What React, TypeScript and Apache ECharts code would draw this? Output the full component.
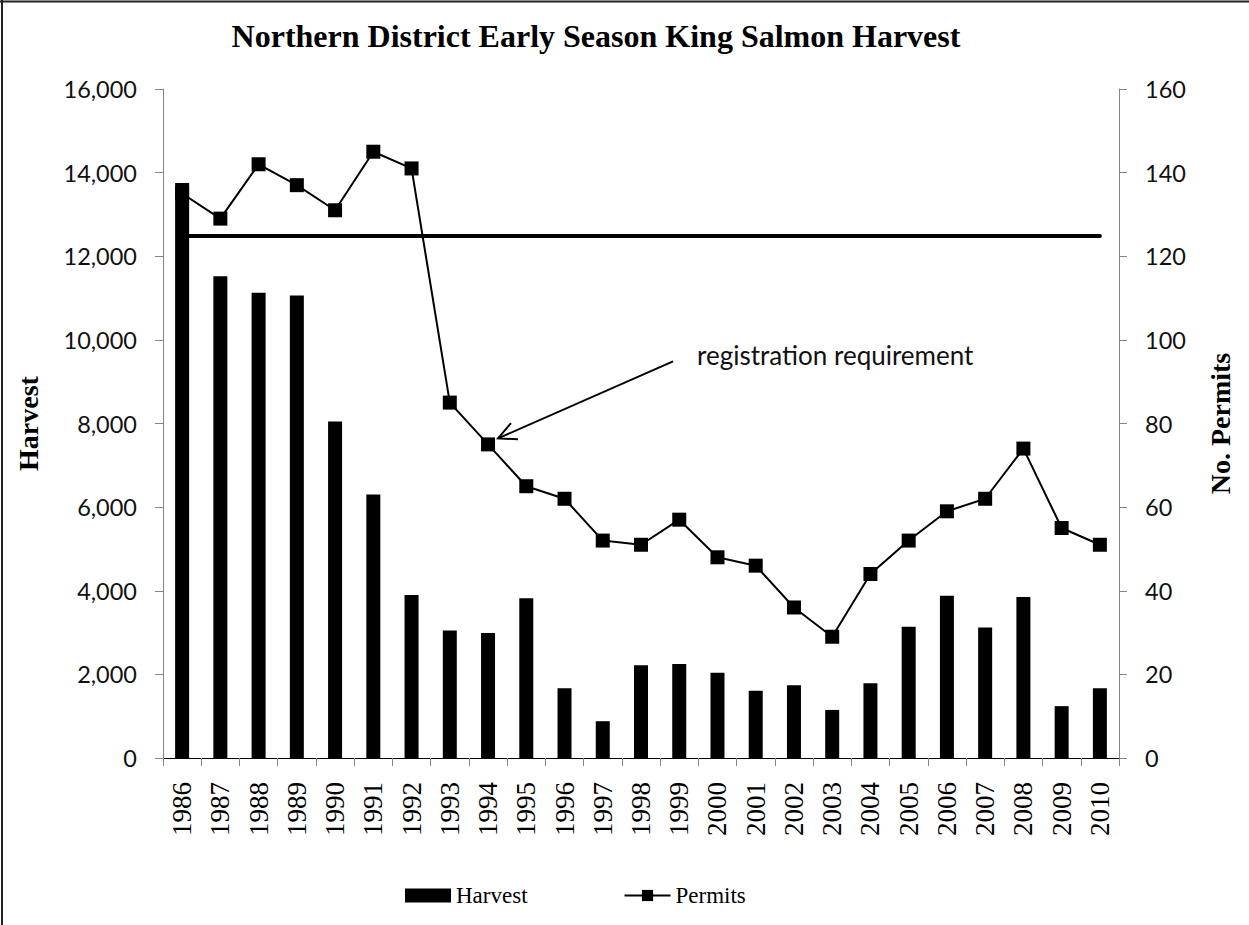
import React, { useEffect, useRef } from "react";
import * as echarts from "echarts";

const years = [
  "1986", "1987", "1988", "1989", "1990", "1991", "1992", "1993", "1994", "1995",
  "1996", "1997", "1998", "1999", "2000", "2001", "2002", "2003", "2004", "2005",
  "2006", "2007", "2008", "2009", "2010",
];
const harvest = [
  13750, 11520, 11130, 11060, 8050, 6300, 3900, 3050, 2990, 3820,
  1670, 880, 2220, 2250, 2040, 1610, 1740, 1150, 1790, 3140,
  3880, 3120, 3850, 1240, 1670,
];
const permits = [
  135, 129, 142, 137, 131, 145, 141, 85, 75, 65,
  62, 52, 51, 57, 48, 46, 36, 29, 44, 52,
  59, 62, 74, 55, 51,
];
const permitThreshold = 125;
const annotationText = "registration requirement";
const annotationYear = "1994";

const SERIF = "'Liberation Serif', 'Times New Roman', serif";
const SANS = "Lato, 'Open Sans', sans-serif";
const AXIS_GRAY = "#868686";

export default function App() {
  const ref = useRef<HTMLDivElement>(null);

  useEffect(() => {
    if (!ref.current) return;
    const chart = echarts.init(ref.current, null, { renderer: "svg" });
    const option: any = {
      animation: false,
      backgroundColor: "#fff",
      title: {
        text: "Northern District Early Season King Salmon Harvest",
        left: 591,
        top: 15,
        textAlign: "center",
        textStyle: { fontFamily: SERIF, fontWeight: "bold", fontSize: 32, color: "#000" },
      },
      legend: {
        left: 400,
        top: 879,
        itemWidth: 46,
        itemHeight: 14,
        itemGap: 96,
        textStyle: { fontFamily: SERIF, fontSize: 23, color: "#000" },
        data: [{ name: "Harvest", icon: "rect" }, { name: "Permits" }],
      },
      grid: { left: 163, right: 130, top: 89, bottom: 167, containLabel: false },
      xAxis: [
        {
          type: "category",
          data: years,
          position: "bottom",
          boundaryGap: true,
          axisLine: { show: true, lineStyle: { color: AXIS_GRAY, width: 1 } },
          axisTick: { show: true, length: 8, alignWithLabel: false, lineStyle: { color: AXIS_GRAY } },
          axisLabel: {
            rotate: 90,
            interval: 0,
            margin: 24,
            fontFamily: SERIF,
            fontSize: 27,
            color: "#000",
          },
          splitLine: { show: false },
        },
        {
          type: "category",
          data: years,
          position: "top",
          axisLine: { show: true, lineStyle: { color: "#000", width: 1 } },
          axisTick: { show: false },
          axisLabel: { show: false },
          splitLine: { show: false },
        },
      ],
      yAxis: [
        {
          type: "value",
          min: 0,
          max: 16000,
          interval: 2000,
          position: "left",
          axisLine: { show: true, lineStyle: { color: AXIS_GRAY } },
          axisTick: { show: true, length: 8, lineStyle: { color: AXIS_GRAY } },
          axisLabel: {
            margin: 26,
            fontFamily: SANS,
            fontSize: 23.5,
            color: "#111",
            formatter: (v: number) => v.toLocaleString("en-US"),
          },
          splitLine: { show: false },
          name: "Harvest",
          nameLocation: "middle",
          nameRotate: 90,
          nameGap: 121,
          nameTextStyle: { fontFamily: SERIF, fontWeight: "bold", fontSize: 28, color: "#000" },
        },
        {
          type: "value",
          min: 0,
          max: 160,
          interval: 20,
          position: "right",
          axisLine: { show: true, lineStyle: { color: AXIS_GRAY } },
          axisTick: { show: true, length: 8, lineStyle: { color: AXIS_GRAY } },
          axisLabel: { margin: 26, fontFamily: SANS, fontSize: 23.5, color: "#111" },
          splitLine: { show: false },
          name: "No. Permits",
          nameLocation: "middle",
          nameRotate: 90,
          nameGap: 87,
          nameTextStyle: { fontFamily: SERIF, fontWeight: "bold", fontSize: 28, color: "#000" },
        },
      ],
      series: [
        {
          name: "Harvest",
          type: "bar",
          xAxisIndex: 0,
          yAxisIndex: 0,
          data: harvest,
          barWidth: 14,
          itemStyle: { color: "#000" },
          z: 4,
        },
        {
          name: "Permits",
          type: "line",
          xAxisIndex: 0,
          yAxisIndex: 1,
          data: permits,
          symbol: "rect",
          symbolSize: 14,
          lineStyle: { color: "#000", width: 2 },
          itemStyle: { color: "#000" },
          z: 2,
          markLine: {
            silent: true,
            symbol: ["none", "none"],
            label: { show: false },
            lineStyle: { color: "#000", width: 4, type: "solid", cap: "round" },
            data: [
              [
                { coord: [years[0], permitThreshold] },
                { coord: [years[years.length - 1], permitThreshold] },
              ],
            ],
          },
        },
      ],
    };
    chart.setOption(option);

    // Annotation arrow anchored to the 1994 permits point
    const idx = years.indexOf(annotationYear);
    const pt = chart.convertToPixel({ seriesIndex: 1 }, [idx, permits[idx]]) as number[];
    const tip = [pt[0] + 10, pt[1] - 6];
    const tail = [tip[0] + 175, tip[1] - 77];
    const ang = Math.atan2(tail[1] - tip[1], tail[0] - tip[0]);
    const bl = 20;
    const spread = (26 * Math.PI) / 180;
    const b1 = [tip[0] + bl * Math.cos(ang + spread), tip[1] + bl * Math.sin(ang + spread)];
    const b2 = [tip[0] + bl * Math.cos(ang - spread), tip[1] + bl * Math.sin(ang - spread)];

    chart.setOption({
      graphic: [
        { type: "line", silent: true, shape: { x1: 2, y1: 0, x2: 2, y2: 925 }, style: { stroke: "#222", lineWidth: 2 } },
        { type: "line", silent: true, shape: { x1: 0, y1: 1.5, x2: 1249, y2: 1.5 }, style: { stroke: "#222", lineWidth: 2 } },
        {
          type: "text",
          silent: true,
          x: tail[0] + 24,
          y: tail[1] - 6,
          style: {
            text: annotationText,
            fontFamily: SANS,
            fontSize: 26,
            fill: "#111",
            textAlign: "left",
            textVerticalAlign: "middle",
          },
        },
        {
          type: "line",
          silent: true,
          shape: { x1: tail[0], y1: tail[1], x2: tip[0], y2: tip[1] },
          style: { stroke: "#000", lineWidth: 2 },
        },
        {
          type: "polyline",
          silent: true,
          shape: { points: [b1, tip, b2] },
          style: { stroke: "#000", lineWidth: 2, fill: null },
        },
      ],
    });

    return () => chart.dispose();
  }, []);

  return (
    <div
      ref={ref}
      style={{ position: "absolute", left: 0, top: 0, width: 1249, height: 925, background: "#fff" }}
    />
  );
}
